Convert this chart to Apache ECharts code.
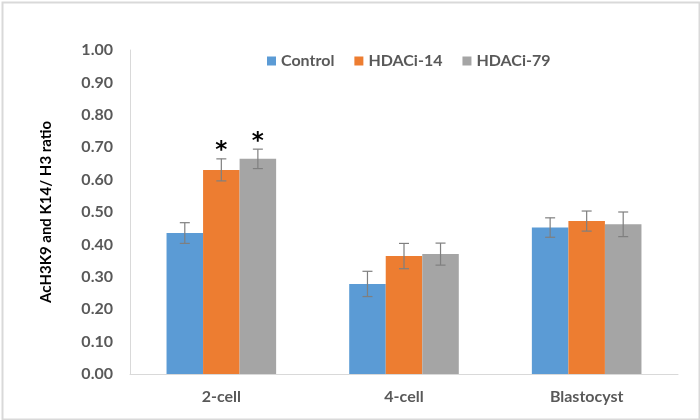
<!DOCTYPE html>
<html><head><meta charset="utf-8">
<script src="https://cdn.jsdelivr.net/npm/echarts@6/dist/echarts.min.js"></script>
<style>html,body{margin:0;padding:0;background:#fff}#c{width:700px;height:420px}</style>
</head><body><div id="c"></div>
<script>
const categories = ['2-cell', '4-cell', 'Blastocyst'];
const seriesNames = ['Control', 'HDACi-14', 'HDACi-79'];
const controlVals = [0.435, 0.278, 0.452];
const hdac14Vals = [0.630, 0.364, 0.472];
const hdac79Vals = [0.664, 0.370, 0.462];
const controlErr = [0.032, 0.039, 0.030];
const hdac14Err = [0.034, 0.039, 0.031];
const hdac79Err = [0.030, 0.034, 0.038];
const controlSig = ['', '', ''];
const hdac14Sig = ['*', '', ''];
const hdac79Sig = ['*', '', ''];
const yTicks = ['0.00','0.10','0.20','0.30','0.40','0.50','0.60','0.70','0.80','0.90','1.00'];

const colors = ['#5b9bd5', '#ed7d31', '#a5a5a5'];
const vals = [controlVals, hdac14Vals, hdac79Vals];
const errs = [controlErr, hdac14Err, hdac79Err];
const sigs = [controlSig, hdac14Sig, hdac79Sig];
const FONT = 'Lato, "Open Sans", sans-serif';
const gapFrac = 0.4;

const chart = echarts.init(document.getElementById('c'));
const series = [];
seriesNames.forEach((n, i) => {
  series.push({
    name: n, type: 'bar', data: vals[i], barGap: '0%', barCategoryGap: '40%',
    itemStyle: { color: colors[i] }
  });
});
seriesNames.forEach((n, i) => {
  series.push({
    type: 'custom', name: n + '_err', silent: true, z: 5,
    data: categories.map((c, k) => [k, vals[i][k], errs[i][k]]),
    renderItem: function (params, api) {
      const k = api.value(0), v = api.value(1), e = api.value(2);
      const sig = sigs[i][k];
      const band = api.size([1, 0])[0];
      const bw = band * (1 - gapFrac) / 3;
      const base = api.coord([k, v]);
      const x = base[0] + (i - 1) * bw;
      const top = api.coord([k, v + e])[1];
      const bot = api.coord([k, v - e])[1];
      const cap = 5;
      const st = { stroke: '#7f7f7f', lineWidth: 1.2 };
      const children = [
        { type: 'line', shape: { x1: x, y1: top, x2: x, y2: bot }, style: st },
        { type: 'line', shape: { x1: x - cap, y1: top, x2: x + cap, y2: top }, style: st },
        { type: 'line', shape: { x1: x - cap, y1: bot, x2: x + cap, y2: bot }, style: st }
      ];
      if (sig) {
        children.push({ type: 'text', style: { text: sig, x: x, y: top + 4, align: 'center', verticalAlign: 'bottom', fill: '#000', font: 'bold 23px "DejaVu Sans"' } });
      }
      return { type: 'group', children: children };
    }
  });
});

chart.setOption({
  animation: false,
  backgroundColor: '#fff',
  graphic: [{ type: 'rect', left: 0, top: 0, z: 100, silent: true, shape: { x: 1, y: 1, width: 697, height: 417 }, style: { fill: 'none', stroke: '#d9d9d9', lineWidth: 2 } }],
  legend: {
    data: seriesNames, top: 48, left: 262, itemWidth: 9, itemHeight: 9, itemGap: 20,
    icon: 'rect',
    textStyle: { fontFamily: FONT, fontSize: 16, fontWeight: 'bold', color: '#595959' }
  },
  grid: { left: 130, right: 22, top: 50, bottom: 46 },
  xAxis: {
    type: 'category', data: categories,
    axisLine: { lineStyle: { color: '#d9d9d9', width: 1 } },
    axisTick: { show: false },
    axisLabel: { fontFamily: FONT, fontSize: 16, fontWeight: 'bold', color: '#595959', margin: 15 }
  },
  yAxis: {
    type: 'value', min: 0, max: 1, interval: 0.1,
    name: 'AcH3K9 and K14/ H3 ratio', nameLocation: 'middle', nameGap: 76, nameRotate: 90,
    nameTextStyle: { fontFamily: FONT, fontSize: 15, fontWeight: 'bold', color: '#000' },
    axisLine: { show: true, lineStyle: { color: '#d9d9d9', width: 1 } },
    axisTick: { show: false },
    splitLine: { show: false },
    axisLabel: { fontFamily: FONT, fontSize: 16, fontWeight: 'bold', color: '#595959', margin: 17,
      formatter: function (v) { return yTicks[Math.round(v * 10)]; } }
  },
  series: series
});
</script></body></html>
